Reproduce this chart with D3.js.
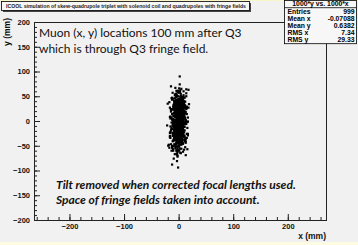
<!DOCTYPE html>
<html>
<head>
<meta charset="utf-8">
<script src="https://cdn.jsdelivr.net/npm/d3@7"></script>
<style>
body { margin: 0; background: #f1f1f1; }
svg { display: block; }
</style>
</head>
<body>
<svg width="358" height="245"></svg>
<script>
// muon positions, 1000*x and 1000*y (hand estimated)
var xVals = [
  3,-5,1,-9,7,-2,11,-4,0,6,-13,2,-7,4,-1,9,-6,14,-3,5,-10,1,8,-2,-15,
  -1,6,-8,2,12,-4,0,-11,5,-3,7,-16,3,-6,10,1,-2,-9,4,17,-5,8,-1,-12,6,
  2,-7,4,13,-3,-10,6,-1,9,-5,0,3,-14,7,-2,11,-8,1,5,-4,-18,10,-6,2,8,
  -9,1,-4,15,-2,7,-12,3,-6,0,9,-3,5,-11,2,13,-7,4,-1,-16,8,-5,1,11,-3,
  4,-2,10,-7,1,-13,6,-4,19,-1,3,-9,7,-5,0,12,-3,-10,5,2,-6,14,-8,1,-2,
  7,-11,2,-3,8,-6,0,16,-4,5,-1,-14,9,-7,3,-2,11,-5,1,-9,6,-20,4,-3,10,
  -5,3,-8,12,-1,5,-12,2,-4,9,0,-6,14,-2,7,-10,1,-15,6,-3,4,11,-7,-1,2,
  1,-6,8,-2,-17,4,-9,6,0,13,-4,3,-11,7,-1,10,-5,2,-8,15,-3,5,-13,0,9,
  -2,11,-7,3,-4,17,-10,1,6,-3,-8,4,12,-6,0,-14,7,-1,9,-5,2,-11,5,-4,13,
  6,-1,-12,8,-5,2,10,-9,3,-2,15,-7,1,-16,5,-3,11,-6,0,7,-10,4,-2,18,-8,
  -4,9,2,-13,6,-1,-7,11,-3,4,-10,0,8,-5,14,-2,3,-12,7,-1,-9,5,16,-6,1,
  10,-3,5,-8,0,13,-11,2,-6,7,-1,-15,4,9,-4,1,-19,6,-2,12,-7,3,-10,0,8,
  -7,2,14,-4,-1,6,-9,11,-3,1,-12,8,-5,0,17,-8,4,-2,10,-6,3,-14,7,-1,5,
  3,-10,-2,7,12,-5,1,-8,4,-13,9,-1,6,-4,-16,2,11,-7,0,5,-3,13,-9,1,-6,
  -3,8,-6,1,-11,4,15,-2,-9,6,0,-5,10,-14,3,-1,7,-8,2,18,-4,-12,5,-2,9,
  5,-12,0,-4,9,-7,2,13,-1,-10,4,-3,6,-17,1,11,-5,3,-8,0,7,-15,2,-6,12,
  -8,4,-1,10,-6,2,-14,5,-3,8,16,-9,1,-4,7,-11,3,-2,13,-7,0,6,-10,4,-21,
  0,7,-9,3,-2,14,-5,1,-12,6,-4,10,-1,-8,5,2,-15,9,-3,4,-6,12,-11,1,8,
  -6,1,5,-10,3,-3,9,-13,0,6,-7,2,11,-4,-1,17,-9,4,-5,8,-2,-14,7,1,-8,
  9,-4,2,-7,13,-1,-11,5,0,-5,10,-3,3,-12,6,-2,8,-16,1,4,-9,15,-6,2,-1,
  // dense core
  2,-4,0,5,-1,3,-6,1,-3,7,-2,4,-5,0,6,-1,2,-7,3,-4,1,8,-2,5,-3,
  -1,4,-6,2,0,-3,6,-2,3,-5,1,7,-4,2,-1,5,-8,0,3,-2,4,-6,1,9,-3,
  3,-2,5,-7,1,-4,2,6,-1,0,-5,3,8,-3,1,-6,4,-2,0,5,-4,2,-9,6,-1,
  -3,1,7,-2,4,-5,0,3,-6,2,-1,6,-3,1,-7,4,0,-2,5,-4,3,-1,8,-5,2,
  0,-5,3,-1,6,-3,2,-8,4,1,-2,5,-4,0,7,-6,3,-1,2,-3,6,-2,4,-7,1,
  5,-1,-4,2,8,-3,0,4,-6,1,-2,3,-5,6,-1,2,-4,7,0,-3,1,-6,5,-2,3,
  -2,6,1,-5,3,-1,4,-7,2,0,-4,5,-3,1,9,-2,3,-6,0,4,-1,2,-5,6,-3,
  1,-3,4,-6,0,5,-2,3,-4,7,-1,2,-8,4,0,-3,6,-1,1,-5,3,-2,5,0,-4,
  4,-6,2,0,-3,6,-1,-4,3,1,-7,5,-2,2,-5,8,0,-3,4,-1,1,-6,3,-2,6,
  -4,2,-1,5,-3,0,7,-5,1,-2,4,-6,3,0,-1,5,-4,2,-7,3,-2,6,-3,1,0
];
var yVals = [
  12,-34,5,27,-8,-51,19,2,-22,41,-3,15,-67,30,-14,7,-39,56,-1,23,-28,9,-45,36,-11,
  -6,48,-19,3,31,-58,14,-25,0,22,-37,8,62,-16,26,-4,-72,11,35,-29,17,-9,44,-53,4,
  28,-13,6,-41,52,-2,18,-31,39,-7,13,-64,24,-20,1,47,-33,10,-17,33,-48,21,-5,58,-26,
  16,-3,-36,29,-55,7,43,-12,20,-23,3,-81,37,-10,25,-44,14,-1,50,-30,8,-18,66,-38,31,
  -15,4,40,-27,11,-60,19,-6,34,-42,27,-9,2,55,-21,15,-35,45,-4,9,-50,24,-13,38,-70,
  6,-24,17,-2,49,-32,13,-57,26,-11,61,-19,3,30,-40,21,-7,43,-15,10,-46,35,-1,18,-29,
  53,-8,23,-37,5,32,-16,74,-26,12,-49,1,28,-63,20,-5,39,-22,7,-33,15,-12,46,-43,25,
  -3,11,-28,36,-54,8,-17,42,0,-35,19,-9,57,-24,4,31,-47,14,-2,26,-66,22,-14,37,-6,
  9,-41,18,-20,48,-1,29,-52,13,-8,35,-30,6,67,-18,24,-4,-59,16,40,-27,2,-11,51,-36,
  21,-15,3,44,-45,10,-23,33,-7,58,-34,17,-1,27,-56,12,-19,38,-9,5,-40,29,-13,63,-25,
  -10,30,-48,7,20,-3,52,-31,15,-21,1,41,-62,26,-6,14,-39,47,-16,8,-28,34,-2,19,-44,
  36,-5,11,-33,25,-69,4,45,-14,22,-38,9,-25,60,-8,31,-50,16,-1,39,-19,6,-57,28,-12,
  2,-27,50,-9,17,-43,32,-4,13,-60,24,-15,42,-2,7,-36,55,-22,19,-11,1,-47,30,-6,65,
  -17,23,-1,37,-53,14,-8,28,-30,46,-12,3,-42,21,-24,59,-5,10,-35,33,-68,18,-3,43,-20,
  8,-46,29,-13,4,51,-26,16,-39,6,-1,35,-58,22,-9,12,-31,40,-15,27,-4,-54,20,-22,48,
  -29,14,-6,61,-19,33,-44,1,26,-10,-65,18,-3,38,-27,9,-52,30,-12,45,-37,5,-16,24,-2,
  40,-21,10,-32,54,-7,19,-48,3,28,-14,-76,36,-5,15,-41,49,-18,2,31,-25,11,-60,22,-9,
  -1,33,-37,18,-11,64,-28,7,-50,25,-3,12,-43,39,-20,4,-34,52,-13,17,-55,26,-7,35,-23,
  13,-9,46,-24,0,-45,21,-16,57,-31,9,-4,32,-61,15,-26,3,42,-38,23,-10,70,-19,6,-47,
  27,-12,-56,17,-2,34,-30,11,-40,50,-6,20,-22,-88,8,-15,44,-33,1,29,-51,14,-8,90,-94,
  // dense core
  5,-12,20,-3,31,-18,8,-27,14,-6,39,-1,22,-35,10,-15,2,27,-9,17,-41,12,-22,34,-4,
  -16,7,-30,24,-2,13,-38,19,-10,42,-20,3,-26,15,-7,30,-13,0,21,-33,9,-17,36,-5,25,
  11,-24,4,-36,18,-8,28,-19,1,-43,14,-11,33,-28,6,-2,23,-40,16,-14,38,-6,10,-31,20,
  -7,29,-15,2,-21,40,-10,17,-32,7,-3,25,-44,12,-18,35,-1,19,-25,9,-37,27,-12,3,-20,
  24,-4,13,-29,37,-14,6,-22,31,-9,18,-34,2,44,-16,10,-27,21,-3,15,-39,7,-19,29,-8,
  -11,33,-23,8,-1,19,-35,26,-6,13,-30,41,-17,4,-24,16,-9,38,-13,1,-28,22,-5,34,-42,
  17,-8,3,-19,26,-37,11,-2,35,-14,21,-26,7,-11,30,-45,14,-4,24,-20,9,-33,39,-16,2,
  -26,12,-5,36,-13,4,-21,29,-40,18,-7,10,-29,45,-3,22,-15,6,-36,27,-10,15,-1,31,-23,
  8,-30,18,-12,41,-6,25,-18,3,-34,12,-25,37,-9,20,-2,28,-43,5,-17,32,-7,16,-28,11,
  -14,21,-3,30,-24,9,-39,16,-8,26,-1,34,-20,6,-32,13,-11,43,-18,1,-27,19,-4,37,-15
];

var xTicks = [-200, -100, 0, 100, 200];
var yTicks = [-200, -150, -100, -50, 0, 50, 100, 150, 200];
var statNames = ["Entries", "Mean x", "Mean y", "RMS x", "RMS y"];
var statValues = ["999", "-0.07088", "0.6382", "7.34", "29.33"];
var titleText = "ICOOL simulation of skew-quadrupole triplet with solenoid coil and quadrupoles with fringe fields";
var histName = "1000*y vs. 1000*x";
var noteTop = ["Muon (x, y) locations 100 mm after Q3", "which is through Q3 fringe field."];
var noteBottom = ["Tilt removed when corrected focal lengths used.", "Space of fringe fields taken into account."];

var svg = d3.select("svg");
var W = +svg.attr("width"), H = +svg.attr("height");
var frame = {left: 34, right: 326, top: 22, bottom: 220};
var rootFont = "'Liberation Sans', Arial, sans-serif";

var x = d3.scaleLinear().domain([-265, 270]).range([frame.left, frame.right]);
var y = d3.scaleLinear().domain([-200, 200]).range([frame.bottom, frame.top]);

// canvas + yellow slide edges
svg.append("rect").attr("width", W).attr("height", H).attr("fill", "#f1f1f1");
svg.append("rect").attr("y", H - 3).attr("width", W).attr("height", 3).attr("fill", "#fdfbe2");
svg.append("rect").attr("width", W).attr("height", 1).attr("fill", "#fbf6c8");

// points
svg.append("g").selectAll("rect")
  .data(xVals)
  .enter().append("rect")
  .attr("x", function(d) { return x(d) - 1.1; })
  .attr("y", function(d, i) { return y(yVals[i]) - 1.1; })
  .attr("width", 2.2)
  .attr("height", 2.2)
  .attr("fill", "#000");

// minor ticks first, then major ticks with labels
function styleAxis(g) {
  g.select(".domain").remove();
  g.selectAll("line").attr("stroke", "#222");
  g.selectAll("text")
    .attr("font-family", rootFont)
    .attr("font-weight", "bold")
    .attr("font-size", 7.5)
    .attr("fill", "#111");
}

svg.append("g")
  .attr("transform", "translate(0," + frame.bottom + ")")
  .call(d3.axisBottom(x).tickValues(d3.range(-260, 261, 20)).tickSize(-3).tickFormat(""))
  .call(styleAxis);
svg.append("g")
  .attr("transform", "translate(0," + frame.bottom + ")")
  .call(d3.axisBottom(x).tickValues(xTicks).tickSize(-6).tickPadding(4))
  .call(styleAxis);

svg.append("g")
  .attr("transform", "translate(" + frame.left + ",0)")
  .call(d3.axisLeft(y).tickValues(d3.range(-200, 201, 10)).tickSize(-3).tickFormat(""))
  .call(styleAxis);
svg.append("g")
  .attr("transform", "translate(" + frame.left + ",0)")
  .call(d3.axisLeft(y).tickValues(yTicks).tickSize(-6).tickPadding(4))
  .call(styleAxis);

// frame
svg.append("rect")
  .attr("x", frame.left + 0.5).attr("y", frame.top + 0.5)
  .attr("width", frame.right - frame.left).attr("height", frame.bottom - frame.top)
  .attr("fill", "none").attr("stroke", "#222").attr("stroke-width", 1);

// axis titles
svg.append("text")
  .attr("x", frame.right).attr("y", 239)
  .attr("text-anchor", "end")
  .attr("font-family", rootFont).attr("font-weight", "bold").attr("font-size", 8.5)
  .attr("fill", "#111")
  .text("x (mm)");
svg.append("text")
  .attr("transform", "translate(10,18) rotate(-90)")
  .attr("text-anchor", "end")
  .attr("font-family", rootFont).attr("font-weight", "bold").attr("font-size", 8.5)
  .attr("fill", "#111")
  .text("y (mm)");

// title pave
svg.append("rect").attr("x", 3).attr("y", 3).attr("width", 248).attr("height", 9).attr("fill", "#444");
svg.append("rect").attr("x", 1.5).attr("y", 1.5).attr("width", 248).attr("height", 9)
  .attr("fill", "#f7f7f7").attr("stroke", "#000").attr("stroke-width", 0.8);
svg.append("text")
  .attr("x", 6).attr("y", 8)
  .attr("font-family", rootFont).attr("font-weight", "bold").attr("font-size", 5)
  .attr("textLength", 240).attr("lengthAdjust", "spacingAndGlyphs")
  .attr("fill", "#222")
  .text(titleText);

// stats box
var sb = {x: 284.5, y: 0.5, w: 72, row: 7.2};
svg.append("rect").attr("x", sb.x).attr("y", sb.y).attr("width", sb.w)
  .attr("height", sb.row * (statNames.length + 1))
  .attr("fill", "#f7f7f7").attr("stroke", "#000").attr("stroke-width", 0.8);
svg.append("line").attr("x1", sb.x).attr("x2", sb.x + sb.w)
  .attr("y1", sb.y + sb.row).attr("y2", sb.y + sb.row).attr("stroke", "#000").attr("stroke-width", 0.8);
svg.append("text")
  .attr("x", sb.x + sb.w / 2).attr("y", sb.y + sb.row - 1.3)
  .attr("text-anchor", "middle")
  .attr("font-family", rootFont).attr("font-weight", "bold").attr("font-size", 6.8)
  .text(histName);
var rows = svg.append("g").selectAll("g").data(statNames).enter().append("g")
  .attr("transform", function(d, i) { return "translate(0," + (sb.y + sb.row * (i + 2) - 1.3) + ")"; })
  .attr("font-family", rootFont).attr("font-weight", "bold").attr("font-size", 6.8);
rows.append("text").attr("x", sb.x + 3).text(function(d) { return d; });
rows.append("text").attr("x", sb.x + sb.w - 2).attr("text-anchor", "end")
  .text(function(d, i) { return statValues[i]; });

// slide annotations
svg.append("g").selectAll("text").data(noteTop).enter().append("text")
  .attr("x", 39).attr("y", function(d, i) { return 37 + i * 16; })
  .attr("font-family", "Lato, 'Open Sans', sans-serif").attr("font-size", 12)
  .attr("fill", "#111")
  .text(function(d) { return d; });
svg.append("g").selectAll("text").data(noteBottom).enter().append("text")
  .attr("x", 56).attr("y", function(d, i) { return 189 + i * 15; })
  .attr("font-family", "Lato, 'Open Sans', sans-serif").attr("font-size", 12)
  .attr("font-weight", "bold").attr("font-style", "italic")
  .attr("fill", "#111")
  .text(function(d) { return d; });
</script>
</body>
</html>
